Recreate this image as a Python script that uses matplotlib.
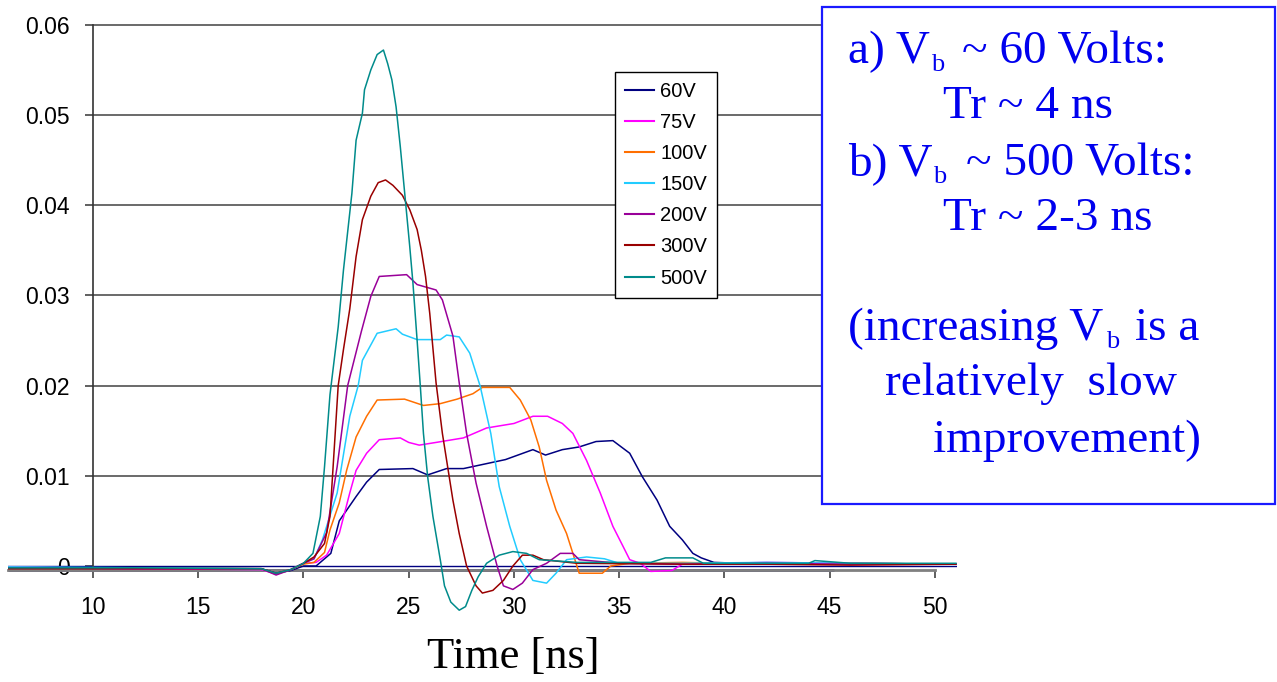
import matplotlib
matplotlib.use("Agg")
import matplotlib.pyplot as plt
from matplotlib.patches import Rectangle

plt.rcParams['font.family'] = ['Liberation Sans', 'DejaVu Sans']

# ---- data: pulse amplitude vs time for several bias voltages ----
labels = ["60V", "75V", "100V", "150V", "200V", "300V", "500V"]
colors = ["#000080", "#FF00FF", "#FF6F00", "#22CCFF", "#990099", "#990000", "#008B8B"]

t_60 = [6, 12, 18, 18.7, 19.4, 20.0, 20.6, 21.3, 21.7, 22.5, 23.0, 23.6, 25.2, 25.9, 26.8, 27.6,
        28.4, 29.6, 30.9, 31.5, 32.3, 33.1, 33.9, 34.7, 35.5, 36.1, 36.8, 37.4, 38.0, 38.5, 38.9,
        39.5, 42, 46, 51]
v_60 = [-0.0002, -0.0002, -0.0003, -0.0008, -0.0005, 0.0000, 0.0000, 0.0014, 0.0050, 0.0077,
        0.0093, 0.0107, 0.0108, 0.0101, 0.0108, 0.0108, 0.0112, 0.0118, 0.0129, 0.0123, 0.0129,
        0.0132, 0.0138, 0.0139, 0.0125, 0.0099, 0.0073, 0.0044, 0.0029, 0.0014, 0.0009, 0.0004,
        0.0002, 0.0003, 0.0002]

t_75 = [6, 12, 18, 18.7, 19.4, 20.0, 20.6, 21.1, 21.7, 22.2, 22.5, 23.0, 23.6, 24.6, 25.0, 25.5,
        26.3, 27.6, 28.7, 30.0, 30.9, 31.6, 32.3, 32.8, 33.45, 34.1, 34.7, 35.2, 35.5, 36.0, 36.5,
        37.5, 38, 42, 46, 51]
v_75 = [-0.0001, -0.0003, -0.0004, -0.0009, -0.0004, 0.0003, 0.0004, 0.0012, 0.0036, 0.0081,
        0.0106, 0.0125, 0.0140, 0.0142, 0.0137, 0.0134, 0.0137, 0.0142, 0.0153, 0.0158, 0.0166,
        0.0166, 0.0158, 0.0147, 0.0117, 0.0081, 0.0044, 0.0021, 0.0007, 0.0003, -0.0006, -0.0005,
        0.0002, 0.0004, 0.0003, 0.0002]

t_100 = [6, 12, 18, 18.7, 19.4, 20.0, 20.5, 21.0, 21.26, 21.7, 22.05, 22.5, 23.0, 23.5, 24.8,
         25.7, 26.5, 27.3, 28.05, 28.5, 29.8, 30.3, 30.8, 31.2, 31.55, 32.0, 32.5, 32.8, 33.1,
         34.2, 34.6, 35.5, 38, 42, 46, 51]
v_100 = [-0.0002, -0.0002, -0.0003, -0.0009, -0.0004, 0.0002, 0.0004, 0.0015, 0.0040, 0.0070,
         0.0106, 0.0143, 0.0166, 0.0184, 0.0185, 0.0178, 0.0180, 0.0185, 0.0191, 0.0198, 0.0198,
         0.0184, 0.0162, 0.0132, 0.0095, 0.0062, 0.0036, 0.0014, -0.0008, -0.0008, 0.0000,
         0.0003, 0.0004, 0.0002, 0.0003, 0.0002]

t_150 = [6, 12, 18, 18.7, 19.4, 20.0, 20.5, 20.9, 21.6, 22.2, 22.6, 22.8, 23.5, 24.4, 24.7, 25.4,
         26.5, 26.8, 27.4, 27.9, 28.4, 28.9, 29.3, 29.8, 30.3, 30.9, 31.55, 32.0, 32.5, 33.45,
         34.3, 35.0, 38, 42, 46, 51]
v_150 = [-0.0001, -0.0002, -0.0003, -0.0009, -0.0004, 0.0003, 0.0008, 0.0029, 0.0081, 0.0166,
         0.0200, 0.0228, 0.0258, 0.0263, 0.0257, 0.0251, 0.0251, 0.0256, 0.0254, 0.0236, 0.0199,
         0.0147, 0.0088, 0.0044, 0.0007, -0.0016, -0.0019, -0.0008, 0.0007, 0.0010, 0.0008,
         0.0003, 0.0003, 0.0004, 0.0003, 0.0002]

t_200 = [6, 12, 18, 18.7, 19.4, 20.0, 20.5, 21.1, 21.6, 22.1, 22.75, 23.2, 23.6, 24.9, 25.4,
         26.3, 26.6, 27.1, 27.4, 27.75, 28.2, 28.7, 29.2, 29.5, 29.95, 30.4, 30.9, 31.55, 32.2,
         32.8, 33.1, 35, 38, 42, 46, 51]
v_200 = [-0.0002, -0.0003, -0.0003, -0.0010, -0.0004, 0.0003, 0.0008, 0.0037, 0.0110, 0.0200,
         0.0260, 0.0299, 0.0321, 0.0323, 0.0312, 0.0306, 0.0295, 0.0255, 0.0203, 0.0147, 0.0092,
         0.0044, 0.0000, -0.0022, -0.0026, -0.0019, -0.0004, 0.0003, 0.0014, 0.0014, 0.0007,
         0.0003, 0.0002, 0.0003, 0.0002, 0.0002]

t_300 = [6, 12, 18, 18.7, 19.4, 20.0, 20.5, 21.0, 21.26, 21.65, 21.9, 22.2, 22.5, 22.8, 23.2,
         23.55, 23.9, 24.25, 24.7, 25.05, 25.4, 25.6, 25.8, 26.0, 26.3, 26.6, 27.1, 27.4, 27.75,
         28.2, 28.5, 29.0, 29.5, 29.95, 30.4, 30.9, 31.4, 33, 38, 42, 46, 51]
v_300 = [-0.0003, -0.0003, -0.0003, -0.0008, -0.0004, 0.0003, 0.0010, 0.0025, 0.0055, 0.0200,
         0.0240, 0.0285, 0.0343, 0.0384, 0.0410, 0.0425, 0.0428, 0.0422, 0.0411, 0.0395, 0.0373,
         0.0350, 0.0321, 0.0280, 0.0203, 0.0147, 0.0073, 0.0036, 0.0000, -0.0022, -0.0030,
         -0.0027, -0.0016, 0.0000, 0.0012, 0.0012, 0.0007, 0.0003, 0.0002, 0.0002, 0.0001, 0.0002]

t_500 = [6, 12, 18, 18.7, 19.4, 20.0, 20.45, 20.8, 21.0, 21.26, 21.65, 21.9, 22.3, 22.5, 22.8,
         22.9, 23.2, 23.5, 23.8, 24.0, 24.2, 24.4, 24.6, 24.75, 24.9, 25.05, 25.2, 25.4, 25.55,
         25.7, 25.9, 26.15, 26.5, 26.7, 27.0, 27.4, 27.7, 28.0, 28.3, 28.7, 29.3, 29.95, 30.6,
         31.2, 33, 36.5, 37.2, 38.5, 39, 42, 44.0, 44.3, 46, 51]
v_500 = [-0.0002, -0.0002, -0.0003, -0.0008, -0.0004, 0.0003, 0.0014, 0.0055, 0.0110, 0.0190,
         0.0265, 0.0328, 0.0413, 0.0472, 0.0502, 0.0528, 0.0550, 0.0567, 0.0572, 0.0557, 0.0539,
         0.0509, 0.0465, 0.0428, 0.0391, 0.0354, 0.0314, 0.0250, 0.0200, 0.0147, 0.0099, 0.0055,
         0.0007, -0.0022, -0.0040, -0.0049, -0.0045, -0.0027, -0.0012, 0.0003, 0.0012, 0.0016,
         0.0014, 0.0007, 0.0004, 0.0004, 0.0009, 0.0009, 0.0003, 0.0003, 0.0003, 0.0006, 0.0003,
         0.0003]

series_t = [t_60, t_75, t_100, t_150, t_200, t_300, t_500]
series_v = [v_60, v_75, v_100, v_150, v_200, v_300, v_500]

x_ticks = [10, 15, 20, 25, 30, 35, 40, 45, 50]
y_ticks = [0, 0.01, 0.02, 0.03, 0.04, 0.05, 0.06]
y_tick_labels = ["0", "0.01", "0.02", "0.03", "0.04", "0.05", "0.06"]

x_range = (5.95, 51.05)
y_range = (-0.0055, 0.0605)
axis_level = -0.00045      # where the time axis is drawn
axis_overlay_end = 45.2    # extent of the dark trace lying on the axis

# note box: text runs as (text, x px, baseline px, is_subscript)
box_runs = [
    ("a) V", 848, 63, False), ("b", 931, 71, True), ("~ 60 Volts:", 962, 63, False),
    ("Tr ~ 4 ns", 943, 118, False),
    ("b) V", 848, 175, False), ("b", 933, 183, True), ("~ 500 Volts:", 966, 175, False),
    ("Tr ~ 2-3 ns", 943, 230, False),
    ("(increasing V", 848, 340, False), ("b", 1106, 348, True), ("is a", 1135, 340, False),
    ("relatively  slow", 885, 395, False),
    ("improvement)", 933, 452, False),
]

W, H = 1277, 682


def fx(px):
    return px / W


def fy(py):
    return 1 - py / H


fig = plt.figure(figsize=(W / 100, H / 100), dpi=100)
fig.patch.set_facecolor("white")

# axes placement in pixels
left_px, right_px = 7.75, 957
top_px = 566 - y_range[1] * 9020
bot_px = 566 - y_range[0] * 9020
ax = fig.add_axes([fx(left_px), fy(bot_px), fx(right_px) - fx(left_px), fy(top_px) - fy(bot_px)])
ax.set_xlim(*x_range)
ax.set_ylim(*y_range)
ax.patch.set_alpha(0)

# horizontal grid from the value axis rightwards
ax.hlines(y_ticks[1:], 10, x_range[1], colors="#505050", lw=1.2, zorder=1, clip_on=False)

# zero reference and trace along the axis
ax.axhline(0, color="#000080", lw=1.0, zorder=2)
ax.hlines(axis_level, x_range[0], axis_overlay_end, colors="#2e2e80", lw=2.0, zorder=2.5)

for t, v, c, lab in zip(series_t, series_v, colors, labels):
    ax.plot(t, v, color=c, lw=1.1, label=lab, zorder=3)

for s in ("top", "right"):
    ax.spines[s].set_visible(False)
ax.spines["left"].set_position(("data", 10))
ax.spines["left"].set_bounds(axis_level, y_ticks[-1])
ax.spines["left"].set_color("#333333")
ax.spines["left"].set_linewidth(1.2)
ax.spines["bottom"].set_position(("data", axis_level))
ax.spines["bottom"].set_bounds(x_range[0], 50)
ax.spines["bottom"].set_color("#808080")
ax.spines["bottom"].set_linewidth(2.0)

ax.set_xticks(x_ticks)
ax.set_xticklabels([str(v) for v in x_ticks])
ax.set_yticks(y_ticks)
ax.set_yticklabels(y_tick_labels)
ax.tick_params(axis="x", direction="out", length=5.5, width=1.2, color="#444444",
               pad=13, labelsize=16.5)
ax.tick_params(axis="y", direction="out", length=5.8, width=1.2, color="#444444",
               pad=10.8, labelsize=16.5)

leg = ax.legend(loc="upper left", bbox_to_anchor=(fx(615), fy(72)), bbox_transform=fig.transFigure,
                fontsize=14.5, frameon=True, fancybox=False, framealpha=1, edgecolor="black",
                borderaxespad=0, borderpad=0.5, handlelength=1.45, handletextpad=0.3,
                labelspacing=0.6)
leg.get_frame().set_linewidth(1.0)
for line in leg.get_lines():
    line.set_linewidth(1.5)

fig.text(fx(513), fy(668), "Time [ns]", family="Liberation Serif", fontsize=32,
         ha="center", va="baseline")

box = Rectangle((fx(822), fy(504)), fx(1275) - fx(822), fy(7) - fy(504), transform=fig.transFigure,
                facecolor="white", edgecolor="#1a1aff", lw=1.6, zorder=5)
fig.patches.append(box)
for txt, px, py, sub in box_runs:
    fig.text(fx(px), fy(py), txt, family="Liberation Serif", fontsize=19 if sub else 34,
             color="#0000EE", ha="left", va="baseline", zorder=6)

fig.savefig("out.png", dpi=100)
